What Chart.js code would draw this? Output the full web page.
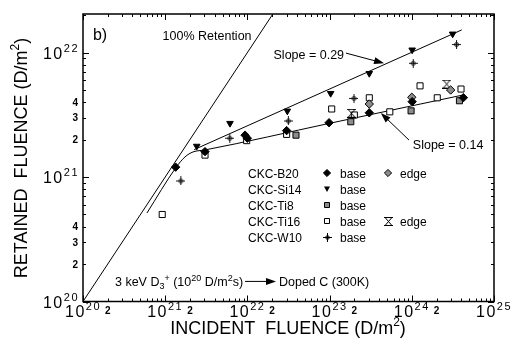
<!DOCTYPE html>
<html><head><meta charset="utf-8">
<script src="https://cdn.jsdelivr.net/npm/chart.js@4/dist/chart.umd.min.js"></script>
<style>html,body{margin:0;padding:0;background:#fff}#wrap{width:512px;height:346px;position:relative}</style>
</head><body><div id="wrap"><canvas id="c" width="512" height="346"></canvas></div>
<script>
// ---------- data ----------
const X_MIN = 1e20, X_MAX = 1e25, Y_MIN = 1e20, Y_MAX = 2.04e22;

const b20BaseX = [1.34e21, 3.05e21, 9.36e21, 9.98e21, 3.0e22, 9.85e22, 3.04e23, 1.01e24, 4.24e24];
const b20BaseY = [1.2e21, 1.6e21, 2.17e21, 2.05e21, 2.36e21, 2.73e21, 3.28e21, 4.03e21, 4.34e21];

const b20EdgeX = [3.04e23, 1.0e24, 2.97e24];
const b20EdgeY = [3.86e21, 4.37e21, 5.0e21];

const si14BaseX = [2.42e21, 6.14e21, 3.06e22, 1.03e23, 3.04e23, 1.01e24, 3.14e24];
const si14BaseY = [1.77e21, 2.7e21, 3.39e21, 4.7e21, 6.8e21, 1.05e22, 1.41e22];

const ti8BaseX = [3.9e22, 1.81e23, 9.8e23, 3.8e24];
const ti8BaseY = [2.17e21, 2.78e21, 3.4e21, 4.1e21];

const ti16BaseX = [9.2e20, 3.05e21, 9.8e21, 3.0e22, 1.06e23, 2.0e23, 3.04e23, 5.4e23, 1.26e24, 2.04e24, 3.97e24];
const ti16BaseY = [5.0e20, 1.5e21, 1.96e21, 2.2e21, 3.52e21, 3.15e21, 4.33e21, 3.34e21, 5.4e21, 4.33e21, 5.09e21];

const ti16EdgeX = [1.85e23, 2.66e24];
const ti16EdgeY = [3.25e21, 5.58e21];

const w10BaseX = [1.55e21, 6.1e21, 3.15e22, 1.98e23, 1.04e24, 3.5e24];
const w10BaseY = [9.3e20, 2.05e21, 2.82e21, 4.28e21, 8.2e21, 1.16e22];

// lines
const retentionX = [1e20, 2.04e22];
const retentionY = [1e20, 2.04e22];
const fitLowX = [6.0e20, 1.35e21, 1.74e21, 2.18e21, 3.05e21, 1.0e23, 1.0e24, 4.2e24];
const fitLowY = [5.14e20, 1.19e21, 1.45e21, 1.59e21, 1.65e21, 2.70e21, 3.73e21, 4.56e21];
const fitHighX = [2.25e21, 4.05e24];
const fitHighY = [1.66e21, 1.52e22];

// tick labels
const xDecades = [20, 21, 22, 23, 24, 25];
const xMinorLabels = [2];
const yDecades = [20, 21, 22];
const yMinorLabels = [2, 3, 4];

// ---------- helpers ----------
const FAM = "'Liberation Sans', Arial, Helvetica, sans-serif";
function pts(xs, ys) { return xs.map((x, i) => ({ x, y: ys[i] })); }
function mk(size, draw) {
  const c = document.createElement('canvas'); c.width = c.height = size;
  const g = c.getContext('2d'); g.strokeStyle = '#000'; g.lineWidth = 1; draw(g, size); return c;
}
const w10Img = mk(9, g => {
  g.lineWidth = 0.9;
  g.beginPath(); g.moveTo(4.5, 0); g.lineTo(4.5, 9); g.moveTo(0, 4.5); g.lineTo(9, 4.5); g.stroke();
  g.beginPath(); g.arc(4.5, 4.5, 2, 0, Math.PI * 2); g.stroke();
});
const ti16EdgeImg = mk(9, g => {
  g.beginPath(); g.moveTo(0, 0.5); g.lineTo(9, 0.5); g.moveTo(0, 8.5); g.lineTo(9, 8.5);
  g.moveTo(1.5, 1); g.lineTo(7.5, 8); g.moveTo(7.5, 1); g.lineTo(1.5, 8); g.stroke();
});
const w10Small = mk(9, g => {
  g.beginPath(); g.moveTo(4.5, 0); g.lineTo(4.5, 9); g.moveTo(0, 4.5); g.lineTo(9, 4.5); g.stroke();
  g.beginPath(); g.arc(4.5, 4.5, 1.8, 0, Math.PI * 2); g.stroke();
});

function rich(ctx, segs, x, y, size, align, spacing) {
  const small = Math.round(size * 0.68);
  ctx.letterSpacing = (spacing || 0) + 'px';
  const widths = segs.map(([t, k]) => { ctx.font = (k === 'n' ? size : small) + 'px ' + FAM; return ctx.measureText(t).width; });
  const total = widths.reduce((a, b) => a + b, 0);
  let cx = align === 'center' ? x - total / 2 : align === 'right' ? x - total : x;
  ctx.textAlign = 'left'; ctx.textBaseline = 'alphabetic';
  segs.forEach(([t, k], i) => {
    ctx.font = (k === 'n' ? size : small) + 'px ' + FAM;
    const dy = k === 'sup' ? -size * 0.42 : k === 'sub' ? size * 0.22 : 0;
    ctx.fillText(t, cx, y + dy); cx += widths[i];
  });
  ctx.letterSpacing = '0px';
  return total;
}
function arrow(ctx, x1, y1, x2, y2, L, W) {
  const ang = Math.atan2(y2 - y1, x2 - x1);
  ctx.beginPath(); ctx.moveTo(x1, y1); ctx.lineTo(x2 - Math.cos(ang) * L * 0.8, y2 - Math.sin(ang) * L * 0.8); ctx.stroke();
  ctx.beginPath(); ctx.moveTo(x2, y2);
  ctx.lineTo(x2 - Math.cos(ang) * L + Math.sin(ang) * W, y2 - Math.sin(ang) * L - Math.cos(ang) * W);
  ctx.lineTo(x2 - Math.cos(ang) * L - Math.sin(ang) * W, y2 - Math.sin(ang) * L + Math.cos(ang) * W);
  ctx.closePath(); ctx.fill();
}
function marker(ctx, kind, x, y) {
  ctx.save(); ctx.lineWidth = 1; ctx.strokeStyle = '#000'; ctx.fillStyle = '#000';
  const r = 3.6;
  if (kind === 'dia' || kind === 'diaG') {
    ctx.beginPath(); ctx.moveTo(x, y - r); ctx.lineTo(x + r, y); ctx.lineTo(x, y + r); ctx.lineTo(x - r, y); ctx.closePath();
    ctx.fillStyle = kind === 'dia' ? '#000' : '#8c8c8c'; ctx.fill(); ctx.stroke();
  } else if (kind === 'tri') {
    ctx.beginPath(); ctx.moveTo(x - 3, y - 2.5); ctx.lineTo(x + 3, y - 2.5); ctx.lineTo(x, y + 3); ctx.closePath(); ctx.fill();
  } else if (kind === 'sqG' || kind === 'sq') {
    ctx.beginPath(); ctx.rect(x - 2.5, y - 2.5, 5, 5); ctx.fillStyle = kind === 'sq' ? '#fff' : '#8c8c8c'; ctx.fill(); ctx.stroke();
  } else if (kind === 'hg') {
    ctx.drawImage(ti16EdgeImg, Math.round(x - 4.5), Math.round(y - 4.5));
  } else if (kind === 'w') {
    ctx.drawImage(w10Small, Math.round(x - 4.5), Math.round(y - 4.5));
  }
  ctx.restore();
}

const legendRows = [
  ['CKC-B20', 'dia', 'base', 'diaG', 'edge'],
  ['CKC-Si14', 'tri', 'base'],
  ['CKC-Ti8', 'sqG', 'base'],
  ['CKC-Ti16', 'sq', 'base', 'hg', 'edge'],
  ['CKC-W10', 'w', 'base']
];

const deco = {
  id: 'deco',
  afterDraw(chart) {
    const ctx = chart.ctx, a = chart.chartArea, xs = chart.scales.x, ys = chart.scales.y;
    const X = v => xs.getPixelForValue(v), Y = v => ys.getPixelForValue(v);
    ctx.save();
    ctx.fillStyle = '#000'; ctx.strokeStyle = '#000';
    // frame
    ctx.lineWidth = 1.5;
    ctx.strokeRect(a.left, a.top, a.right - a.left, a.bottom - a.top);
    // ticks (inward, all four sides)
    ctx.lineWidth = 1;
    ctx.beginPath();
    for (let d = 20; d <= 25; d++) for (let m = 1; m <= 9; m++) {
      const v = m * Math.pow(10, d); if (v > X_MAX * 1.0001) break;
      const px = Math.round(X(v)) + 0.5, L = m === 1 ? 6 : 3;
      ctx.moveTo(px, a.bottom); ctx.lineTo(px, a.bottom - L);
      ctx.moveTo(px, a.top); ctx.lineTo(px, a.top + L);
    }
    for (let d = 20; d <= 22; d++) for (let m = 1; m <= 9; m++) {
      const v = m * Math.pow(10, d); if (v > Y_MAX) break;
      const py = Math.round(Y(v)) + 0.5, L = m === 1 ? 6 : 3;
      ctx.moveTo(a.left, py); ctx.lineTo(a.left + L, py);
      ctx.moveTo(a.right, py); ctx.lineTo(a.right - L, py);
    }
    ctx.stroke();
    // x tick labels
    xDecades.forEach(d => rich(ctx, [['10', 'n'], [String(d), 'sup']], X(Math.pow(10, d)), 317, 16, 'center', 1.5));
    ctx.font = 'bold 10px ' + FAM; ctx.textAlign = 'center';
    xDecades.slice(0, -1).forEach(d => xMinorLabels.forEach(m => ctx.fillText(String(m), X(m * Math.pow(10, d)), 314)));
    // y tick labels
    yDecades.forEach(d => rich(ctx, [['10', 'n'], [String(d), 'sup']], 79, Y(Math.pow(10, d)) + 6, 16, 'right', 1.5));
    ctx.font = 'bold 10px ' + FAM; ctx.textAlign = 'right';
    yDecades.slice(0, -1).forEach(d => yMinorLabels.forEach(m => ctx.fillText(String(m), 78, Y(m * Math.pow(10, d)) + 3.5)));
    // axis titles
    rich(ctx, [['INCIDENT  FLUENCE (D/m', 'n'], ['2', 'sup'], [')', 'n']], 288, 334, 18, 'center');
    ctx.save(); ctx.translate(27, 158); ctx.rotate(-Math.PI / 2);
    rich(ctx, [['RETAINED  FLUENCE (D/m', 'n'], ['2', 'sup'], [')', 'n']], 0, 0, 18, 'center');
    ctx.restore();
    // annotations (anchored in data coordinates)
    ctx.fillStyle = '#000';
    rich(ctx, [['b)', 'n']], X(1.32e20), Y(1.41e22) + 6, 16, 'left');
    rich(ctx, [['100% Retention', 'n']], X(3.23e21), Y(1.38e22) + 4.5, 12.5, 'center');
    rich(ctx, [['Slope = 0.29', 'n']], X(1.5e23), Y(9.7e21) + 4.5, 12.5, 'right');
    rich(ctx, [['Slope = 0.14', 'n']], X(1.03e24), Y(1.81e21) + 4.5, 12.5, 'left');
    ctx.lineWidth = 1;
    arrow(ctx, X(1.58e23), Y(9.9e21), X(4.6e23), Y(8.2e21), 10, 3.5);
    arrow(ctx, X(9.25e23), Y(1.98e21), X(4.2e23), Y(3.27e21), 10, 3.5);
    const ny = Y(1.45e20) + 4.5;
    rich(ctx, [['3 keV D', 'n'], ['3', 'sub'], ['+', 'sup'], [' (10', 'n'], ['20', 'sup'], [' D/m', 'n'], ['2', 'sup'], ['s)', 'n']], X(2.45e20), ny, 12.5, 'left');
    arrow(ctx, X(9.36e21), Y(1.45e20), X(2.23e22), Y(1.45e20), 10, 3.5);
    rich(ctx, [['Doped C (300K)', 'n']], X(2.42e22), ny, 12.5, 'left');
    // legend
    legendRows.forEach((r, i) => {
      const cy = 173 + i * 16;
      rich(ctx, [[r[0], 'n']], 248, cy + 4.5, 12, 'left');
      marker(ctx, r[1], 327, cy);
      rich(ctx, [[r[2], 'n']], 340, cy + 4.5, 12, 'left');
      if (r[3]) { marker(ctx, r[3], 388, cy); rich(ctx, [[r[4], 'n']], 400, cy + 4.5, 12, 'left'); }
    });
    ctx.restore();
  }
};

const lineDs = (label, xs, ys, extra) => Object.assign({
  label, data: pts(xs, ys), showLine: true, borderColor: '#000', borderWidth: 1,
  pointRadius: 0, fill: false, order: 10
}, extra || {});

new Chart(document.getElementById('c'), {
  type: 'scatter',
  data: {
    datasets: [
      lineDs('100% Retention', retentionX, retentionY),
      lineDs('Slope 0.14 fit', fitLowX, fitLowY, { cubicInterpolationMode: 'monotone' }),
      lineDs('Slope 0.29 fit', fitHighX, fitHighY),
      { label: 'CKC-B20 base', data: pts(b20BaseX, b20BaseY), pointStyle: 'rectRot', pointRadius: 4.2, backgroundColor: '#000', borderColor: '#000', borderWidth: 1, order: 0 },
      { label: 'CKC-B20 edge', data: pts(b20EdgeX, b20EdgeY), pointStyle: 'rectRot', pointRadius: 4.2, backgroundColor: '#8c8c8c', borderColor: '#000', borderWidth: 1, order: 1 },
      { label: 'CKC-Si14 base', data: pts(si14BaseX, si14BaseY), pointStyle: 'triangle', pointRotation: 180, pointRadius: 3.8, backgroundColor: '#000', borderColor: '#000', borderWidth: 1, order: 0 },
      { label: 'CKC-Ti8 base', data: pts(ti8BaseX, ti8BaseY), pointStyle: 'rect', pointRadius: 4.3, backgroundColor: '#8c8c8c', borderColor: '#000', borderWidth: 1, order: 3 },
      { label: 'CKC-Ti16 base', data: pts(ti16BaseX, ti16BaseY), pointStyle: 'rect', pointRadius: 4.3, backgroundColor: '#fff', borderColor: '#000', borderWidth: 1, order: 4 },
      { label: 'CKC-Ti16 edge', data: pts(ti16EdgeX, ti16EdgeY), pointStyle: ti16EdgeImg, order: 2 },
      { label: 'CKC-W10 base', data: pts(w10BaseX, w10BaseY), pointStyle: w10Img, order: 2 }
    ]
  },
  options: {
    responsive: false, animation: false, devicePixelRatio: 1,
    layout: { padding: { left: 83, top: 14, right: 18, bottom: 44.5 } },
    plugins: { legend: { display: false }, tooltip: { enabled: false }, title: { display: false } },
    scales: {
      x: { type: 'logarithmic', min: X_MIN, max: X_MAX, display: false },
      y: { type: 'logarithmic', min: Y_MIN, max: Y_MAX, display: false }
    }
  },
  plugins: [deco]
});
</script>
</body></html>
